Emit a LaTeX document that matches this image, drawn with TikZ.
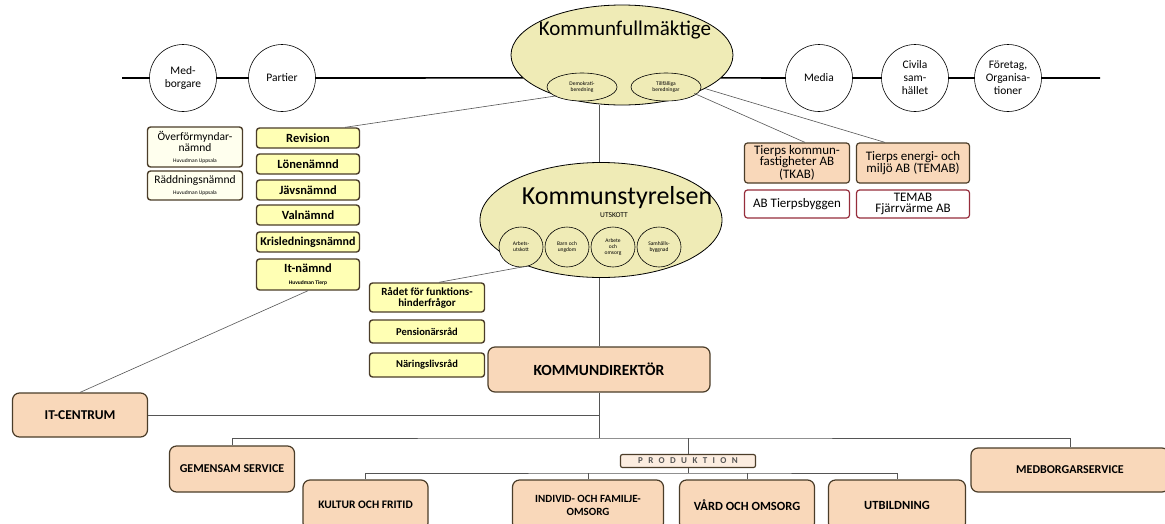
\documentclass[tikz,border=0pt]{standalone}
\usepackage{fontspec}
\setmainfont{Carlito}
\usetikzlibrary{shapes.geometric}
\definecolor{khaki}{HTML}{EFEBB6}
\definecolor{ljusgul}{HTML}{FFFFB4}
\definecolor{blekgul}{HTML}{FFFFEE}
\definecolor{persika}{HTML}{F9D8BA}
\definecolor{kant}{HTML}{4B3D29}
\definecolor{vinrod}{HTML}{962D3B}
\definecolor{streck}{HTML}{555555}
\tikzset{
  krets/.style={circle,draw,semithick,fill=white,minimum size=67pt,inner sep=0pt,align=center,font=\fontsize{11.5}{13}\selectfont},
  stor/.style={ellipse,draw,thick,fill=khaki,inner sep=0pt},
  liten/.style={ellipse,draw,semithick,fill=khaki,inner sep=0pt,align=center,font=\fontsize{5.5}{6}\selectfont},
  gul/.style={draw=kant,line width=1.4pt,rounded corners=3pt,fill=ljusgul,align=center,inner sep=1pt,
    minimum width=103pt,minimum height=20pt,font=\bfseries\fontsize{12.5}{12.5}\selectfont},
  blek/.style={gul,fill=blekgul,minimum width=95pt,font=\fontsize{11.5}{11}\selectfont},
  bolag/.style={draw=kant,line width=1.2pt,rounded corners=3pt,fill=persika,align=center,inner sep=0pt,
    minimum height=40pt,font=\fontsize{13}{11.5}\selectfont},
  dotter/.style={bolag,draw=vinrod,fill=white,minimum height=28pt},
  enhet/.style={draw=kant,line width=1.2pt,rounded corners=7pt,fill=persika,align=center,inner sep=1pt,
    minimum height=45pt,font=\bfseries\fontsize{12}{13}\selectfont},
  streck/.style={draw=streck,semithick},
  stamm/.style={draw,line width=1.6pt}
}
\newcommand{\huvud}[1]{{\fontsize{5.5}{6.5}\selectfont #1}}
\begin{document}
\begin{tikzpicture}[x=1pt,y=-1pt]
\fill[white] (0,0) rectangle (1165,523);
\useasboundingbox (0,0) rectangle (1165,523);

\coordinate (venster) at (122,78);
\coordinate (hoger) at (1100,78);
\node[krets] (Medb) at (183,78) {Med-\\borgare};
\node[krets] (Part) at (282,78) {Partier};
\node[krets] (Media) at (819,78) {Media};
\node[krets] (Civ) at (915,78) {Civila\\sam-\\hället};
\node[krets] (Ftg) at (1008,78) {Företag,\\Organisa-\\tioner};

\node[stor,minimum width=222pt,minimum height=100pt] (KF) at (622,55) {};
\node[font=\fontsize{21}{21}\selectfont] (KFtext) at (625,30) {Kommunfullmäktige};
\node[liten,minimum width=70pt,minimum height=28pt] (Demo) at (582,87) {Demokrati-\\beredning};
\node[liten,minimum width=70pt,minimum height=28pt] (Tillf) at (666,87) {Tillfälliga\\beredningar};

\node[blek,minimum height=40pt] (Over) at (195,147) {Överförmyndar-\\nämnd\\\huvud{Huvudman Uppsala}};
\node[blek,minimum height=29pt] (Radd) at (195,185.5) {Räddningsnämnd\\\huvud{Huvudman Uppsala}};
\node[gul] (Rev) at (308,138) {Revision};
\node[gul] (Lon) at (308,164) {Lönenämnd};
\node[gul] (Jav) at (308,190) {Jävsnämnd};
\node[gul] (Val) at (308,215) {Valnämnd};
\node[gul,font=\bfseries\fontsize{12}{12}\selectfont] (Kris) at (308,242) {Krisledningsnämnd};
\node[gul,minimum height=31pt] (ItN) at (308,274.5) {It-nämnd\\\huvud{Huvudman Tierp}};

\node[stor,minimum width=242pt,minimum height=115pt] (KS) at (601,220) {};
\node[font=\fontsize{26}{26}\selectfont] (KStext) at (617,198) {Kommunstyrelsen};
\node[font=\fontsize{7.5}{7.5}\selectfont] (Utsk) at (614,215) {UTSKOTT};
\node[liten,minimum width=44pt,minimum height=40pt] (Arbu) at (521,247) {Arbets-\\utskott};
\node[liten,minimum width=44pt,minimum height=40pt] (Barn) at (567,247) {Barn och\\ungdom};
\node[liten,minimum width=44pt,minimum height=40pt] (Omso) at (613,247) {Arbete\\och\\omsorg};
\node[liten,minimum width=44pt,minimum height=40pt] (Samh) at (659,247) {Samhälls-\\byggnad};

\node[gul,minimum width=115pt,minimum height=29pt,font=\bfseries\fontsize{11}{11}\selectfont] (Radet) at (427,297.5) {Rådet för funktions-\\hinderfrågor};
\node[gul,minimum width=115pt,minimum height=23pt,font=\bfseries\fontsize{10.5}{10.5}\selectfont] (Pens) at (427,331.5) {Pensionärsråd};
\node[gul,minimum width=115pt,minimum height=24pt,font=\bfseries\fontsize{10.5}{10.5}\selectfont] (Nar) at (427,365) {Näringslivsråd};

\node[bolag,minimum width=105pt] (TKAB) at (797,163) {Tierps kommun-\\fastigheter AB\\(TKAB)};
\node[bolag,minimum width=113pt] (TEMAB) at (913,163) {Tierps energi- och\\miljö AB (TEMAB)};
\node[dotter,minimum width=105pt] (Tby) at (797,204) {AB Tierpsbyggen};
\node[dotter,minimum width=113pt] (Fjv) at (913,204) {TEMAB\\Fjärrvärme AB};

\node[enhet,minimum width=222pt,font=\bfseries\fontsize{15.5}{16}\selectfont] (KD) at (599,369.5) {KOMMUNDIREKTÖR};
\node[enhet,minimum width=135pt,minimum height=44pt,font=\bfseries\fontsize{13.5}{14}\selectfont] (ITC) at (80,415) {IT-CENTRUM};
\node[enhet,minimum width=125pt,minimum height=46pt] (GS) at (232,469) {GEMENSAM SERVICE};
\node[enhet,minimum width=198pt,minimum height=44pt] (MS) at (1070,470) {MEDBORGARSERVICE};
\node[draw=kant,line width=1.2pt,rounded corners=2pt,fill=persika!45,minimum width=135pt,minimum height=13pt,inner sep=0pt,text=streck,
  font=\bfseries\fontsize{9}{9}\selectfont\addfontfeatures{LetterSpace=60}] (Prod) at (688,461) {PRODUKTION};
\node[enhet,minimum width=125pt,minimum height=50pt,font=\bfseries\fontsize{11.5}{13}\selectfont] (KoF) at (365.5,505) {KULTUR OCH FRITID};
\node[enhet,minimum width=151pt,minimum height=50pt,font=\bfseries\fontsize{11}{13}\selectfont] (IoF) at (588,505) {INDIVID- OCH FAMILJE-\\OMSORG};
\node[enhet,minimum width=135pt,minimum height=50pt,font=\bfseries\fontsize{12.5}{13}\selectfont] (VoO) at (747,505) {VÅRD OCH OMSORG};
\node[enhet,minimum width=137pt,minimum height=50pt,font=\bfseries\fontsize{12.5}{13}\selectfont] (Utb) at (897,505) {UTBILDNING};

\coordinate (buss) at (599,438);
\coordinate (pbuss) at (688,473);

\draw[stamm] (venster) -- (Medb) -- (Part) -- (KF.193);
\draw[stamm] (KF.-13) -- (Media) -- (Civ) -- (Ftg) -- (hoger);
\draw[streck] (KF.212) -- ([xshift=-15pt]Rev.north east);
\draw[streck] (KF.-28) -- ([xshift=8pt]TKAB.north);
\draw[streck] (KF.-22) -- ([xshift=-28pt]TEMAB.north);
\draw[streck] (KF.south -| KD.north) -- (KS.north -| KD.north);
\draw[streck] (KS.212) -- ([xshift=12pt]Radet.north);
\draw[streck] (ItN.south) -- (ITC.north);
\draw[streck] (KS.south -| KD.north) -- (KD.north);
\draw[streck] (KD.south) -- (buss);
\draw[streck] (ITC.east) -- (ITC.east -| KD.south);
\draw[streck] (GS.north) |- (buss) -| (MS.north);
\draw[streck] (buss -| Prod.north) -- (Prod.north);
\draw[streck] (Prod.south) -- (pbuss);
\draw[streck] (KoF.north) |- (pbuss) -| (Utb.north);
\draw[streck] (IoF.north) -- (IoF.north |- pbuss);
\draw[streck] (VoO.north) -- (VoO.north |- pbuss);
\end{tikzpicture}
\end{document}
